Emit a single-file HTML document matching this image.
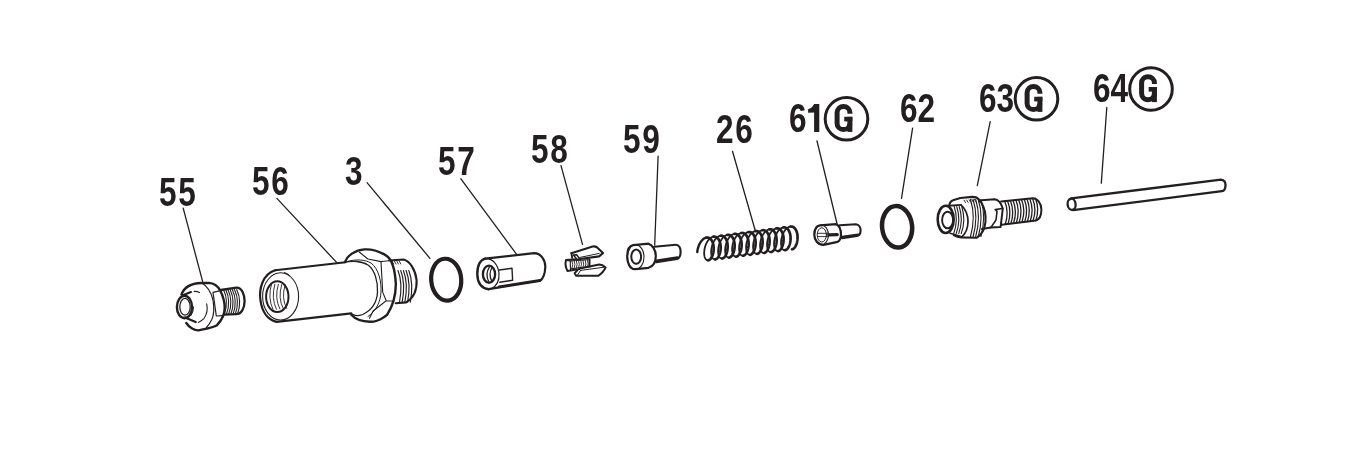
<!DOCTYPE html>
<html><head><meta charset="utf-8"><style>
html,body{margin:0;padding:0;background:#fff;width:1364px;height:459px;overflow:hidden}
svg{position:absolute;left:0;top:0;will-change:transform}
.lb{font-family:"Liberation Sans",sans-serif;font-weight:bold;font-size:40px;fill:#231f20;letter-spacing:2px}
</style></head><body>
<svg width="1364" height="459" viewBox="0 0 1364 459">
<g fill="none" stroke="#231f20" stroke-linecap="round" stroke-linejoin="round">
<g stroke-width="1.3">
<line x1="183.2" y1="208.2" x2="202.6" y2="281.4"/>
<line x1="276.9" y1="198.4" x2="336.6" y2="262.4"/>
<line x1="367.2" y1="182.8" x2="429.9" y2="258.3"/>
<line x1="460.9" y1="178.8" x2="516.8" y2="254.7"/>
<line x1="561" y1="165.7" x2="582.5" y2="244.3"/>
<line x1="658.1" y1="156.2" x2="654.7" y2="245"/>
<line x1="732.5" y1="151.3" x2="755.1" y2="230"/>
<line x1="817" y1="141" x2="837.1" y2="224"/>
<line x1="912.6" y1="128.2" x2="901.5" y2="198.4"/>
<line x1="990.2" y1="121.6" x2="977.3" y2="185.7"/>
<line x1="1106.8" y1="107.5" x2="1101.3" y2="183.1"/>
</g>
<g stroke-width="3">
<circle cx="846.5" cy="118.8" r="21.3"/>
<circle cx="1036.5" cy="98.8" r="21.3"/>
<circle cx="1151" cy="89" r="21.3"/>
</g>
<g id="p55">
<path d="M220.8,290 L236.4,287.6 C242,287.3 244.6,295 244.6,301 C244.6,308 241.5,314 236.4,314.2 L224.4,314.6" stroke-width="2.3"/>
<path d="M223.5,289.4 Q229.0,301 224.3,314" stroke-width="1.1"/>
<path d="M225.7,289.4 Q231.2,301 226.5,314" stroke-width="1.1"/>
<path d="M227.9,289.4 Q233.4,301 228.7,314" stroke-width="1.1"/>
<path d="M230.1,289.4 Q235.6,301 230.9,314" stroke-width="1.1"/>
<path d="M232.3,289.4 Q237.8,301 233.1,314" stroke-width="1.1"/>
<path d="M234.5,289.4 Q240.0,301 235.3,314" stroke-width="1.1"/>
<path d="M236.7,289.4 Q242.2,301 237.5,314" stroke-width="1.1"/>
<path d="M181.5,294.5 C184,287.5 191,283.3 201.4,283 L208.8,282.9 C214,283.2 218,286.5 220.2,290.5 C222.5,295 224.7,302 224.7,308 C224.7,314 222,320 217,325.2 C213,327.5 207,328.5 198.7,330.4 C194,330.5 189,327 186.3,323" stroke-width="2.4"/>
<path d="M201.6,282.8 C207,286 211,292 213,300 C214.5,309 213.5,316 211.7,319.8 C210,323 208,326 206.4,327.5" stroke-width="1.2"/>
<path d="M220.2,290.6 L213,292.4 L216.3,316 L222.4,315.6" stroke-width="1.2"/>
<path d="M182.8,295.2 L191,292" stroke-width="2"/>
<path d="M194.2,291.4 Q197,291.2 199.5,292.4" stroke-width="1.1"/>
<path d="M206.7,303.8 C207.8,309 207,314 204.1,318.3 Q201.5,321 198.3,322.5" stroke-width="1.1"/>
<path d="M185,317.5 L195.7,322.1" stroke-width="2.2"/>
<ellipse cx="184.5" cy="307" rx="7.6" ry="11.2" stroke-width="2.4"/>
<ellipse cx="185" cy="306.8" rx="5.2" ry="8.4" stroke-width="1.3"/>
<path d="M193.6,307 Q193.5,312 191,315.6" stroke-width="1"/>
</g>
<g id="p56">
<path d="M275.3,270.2 L345.5,262.2" stroke-width="2.1"/>
<path d="M276.6,321.9 L351.3,313.4" stroke-width="2.1"/>
<path d="M275.3,270.2 C262,274 259,290 260.4,300 C262,312 268,320 276.6,321.9" stroke-width="2.2"/>
<ellipse cx="280.6" cy="296.4" rx="18" ry="23.6" stroke-width="1.1"/>
<path d="M284.5,272.5 Q288,273.5 289.5,275.5" stroke-width="1"/>
<ellipse cx="277.3" cy="296.7" rx="11.2" ry="15.4" stroke-width="2"/>

<path d="M271.5,284.0 Q267.5,298 273.0,309.5" stroke-width="0.9"/>
<path d="M274.9,284.2 Q270.9,298 276.4,309.2" stroke-width="0.9"/>
<path d="M278.3,284.4 Q274.3,298 279.8,308.9" stroke-width="0.9"/>
<path d="M281.7,284.6 Q277.7,298 283.2,308.6" stroke-width="0.9"/>
<path d="M285.1,284.8 Q281.1,298 286.6,308.3" stroke-width="0.9"/>
<path d="M345.2,261.6 C347,256 355,250 364.4,249.4 C372,249 381,252 387.1,256.3 C392,260 395,270 395.8,283.4 C396,295 394,304 387.1,314.8 C382,319 376,322 370,321.8 C362,321.5 355,319 351.3,314.8" stroke-width="2.4"/>
<path d="M344,262.5 C352,260.5 362,261 368,265 C375,270 378,282 377.5,292 C377,302 372,310 362.7,314.5 C359,316 355,316.5 351.5,313.8" stroke-width="1.3"/>
<path d="M347,261.5 C356,259 365,259.5 371,263 C379,269 381.5,282 381,292 C380.5,302 376,311 368,316.5" stroke-width="1"/>
<path d="M359.2,252 L367.9,259 L381,261.6 L388.8,260.7 M381,261.6 L382.7,292.1 L386.2,300.8 L393,301 M386.2,300.8 L373.1,311 L369.5,318.2" stroke-width="1.1"/>
<path d="M389.2,260.5 L403.6,259.5 C410,261 415.5,270 416.6,280.1 C417,288 415,297 406.2,302.4 L395.7,303.2" stroke-width="2.1"/>

<path d="M398.0,270.5 Q403.0,283 399.5,302.2" stroke-width="1.15"/>
<path d="M400.7,270.5 Q405.7,283 402.2,302.2" stroke-width="1.15"/>
<path d="M403.4,270.5 Q408.4,283 404.9,302.2" stroke-width="1.15"/>
<path d="M406.1,270.5 Q411.1,283 407.6,302.2" stroke-width="1.15"/>
<path d="M408.8,270.5 Q413.8,283 410.3,302.2" stroke-width="1.15"/>
<path d="M392.0,261 L393.6,264" stroke-width="0.9"/>
<path d="M394.4,261 L396.0,264" stroke-width="0.9"/>
<path d="M396.8,261 L398.4,264" stroke-width="0.9"/>
<path d="M399.2,261 L400.8,264" stroke-width="0.9"/>
</g>
<ellipse cx="446.2" cy="279.7" rx="15" ry="21" stroke-width="4.2" transform="rotate(-5 446.2 279.7)"/>
<g id="p57">
<path d="M485.3,258.6 L534.3,253.2 C541,253.5 545.5,260 545.3,267 C545,274 543,279 539.8,281 L488.5,289.1" stroke-width="2.2"/>
<path d="M499,286.6 L540,280.3" stroke-width="2.4"/>
<path d="M485.3,258.6 C480,260 477.3,266 477.3,274 C477.4,282 481,288 488.5,289.3" stroke-width="2.4"/>
<path d="M485.3,258.6 C493,258 498,265 499,273 C499.5,280 497,286 491,289" stroke-width="1.2"/>
<ellipse cx="489" cy="274.2" rx="6.1" ry="8.6" stroke-width="2.3"/>
<path d="M489.5,266.8 Q484.8,274 488.8,281.8 M492.3,267 Q488,274 491.8,281.3" stroke-width="1.3"/>
<path d="M499.4,270 L512,268.2 L512.6,280.2 L499.8,282.2" stroke-width="1.4"/>
</g>
<g id="p58">
<path d="M571.4,253.2 L592.6,246.6 C595,246 597,247 598.2,248.4 L603,253.1 L599.1,256.4 L579.8,259" stroke-width="2.1"/>
<path d="M571.4,253.2 L572.2,257.8" stroke-width="1.9"/>
<path d="M573.3,255 L576.6,254.7 L579.8,258.9 L577.2,259.4 Z" stroke-width="1.5"/>
<path d="M580,257.4 L599.2,253.4" stroke-width="1"/>
<path d="M566,260 L576,259.3 M589.5,259.4 L589.5,266.8 M566,260 Q564.6,265.5 567.4,270.9 L576.5,269.6" stroke-width="2"/>
<path d="M566.2,260.4 L570.2,261 L570.6,269.8" stroke-width="1.2"/>
<path d="M570.2,261 L589.5,259.6 M570.6,268.8 L589.5,266.6" stroke-width="1"/>

<path d="M572.0,261.0 Q573.6,264.5 572.0,268.6" stroke-width="0.9"/>
<path d="M574.2,260.9 Q575.8,264.5 574.2,268.4" stroke-width="0.9"/>
<path d="M576.4,260.7 Q578.0,264.5 576.4,268.1" stroke-width="0.9"/>
<path d="M578.6,260.6 Q580.2,264.5 578.6,267.9" stroke-width="0.9"/>
<path d="M580.8,260.4 Q582.4,264.5 580.8,267.6" stroke-width="0.9"/>
<path d="M583.0,260.2 Q584.6,264.5 583.0,267.4" stroke-width="0.9"/>
<path d="M585.2,260.1 Q586.8,264.5 585.2,267.1" stroke-width="0.9"/>
<path d="M587.4,259.9 Q589.0,264.5 587.4,266.9" stroke-width="0.9"/>
<path d="M578.6,268.8 L599.2,264.6 Q602.5,264.8 605.6,267.4 Q603.5,272.5 598.2,275.8 L576.2,275.8 L574.7,273.2 Z" stroke-width="2"/>
<path d="M574.7,273.2 L578.6,268.8 L580.6,270.4 L577.2,275.6 M580.6,270.4 L604,267.2" stroke-width="1"/>
</g>
<g id="p59">
<path d="M654.3,246.8 L675.9,244.7 C679,244.6 680.6,248 680.6,251.5 C680.6,255 679.5,258.4 677,259 L656.3,262.2" stroke-width="2.1"/>
<path d="M656.5,261 L677.5,257.7" stroke-width="3"/>
<path d="M633,245.2 L648.5,243.7 C652.5,245 655.8,250 655.8,256 C655.8,262 653,266.5 648.5,267.8 L634.7,269.2 C629.5,269 627.2,262 627.2,257 C627.2,250 629.5,245.8 633,245.2 Z" stroke-width="2.2"/>
<ellipse cx="635.7" cy="257" rx="8.3" ry="12.2" stroke-width="1.1"/>
<ellipse cx="636.2" cy="256.7" rx="4.9" ry="7.1" stroke-width="2"/>
</g>
<path d="M697.27,252.10 L697.30,251.76 L697.34,251.43 L697.38,251.10 L697.43,250.76 L697.48,250.42 L697.54,250.08 L697.60,249.74 L697.67,249.41 L697.75,249.07 L697.83,248.73 L697.91,248.39 L698.00,248.05 L698.10,247.72 L698.20,247.38 L698.30,247.05 L698.41,246.72 L698.53,246.39 L698.65,246.06 L698.77,245.74 L698.90,245.42 L699.03,245.10 L699.17,244.78 L699.31,244.47 L699.46,244.17 L699.61,243.87 L699.76,243.57 L699.92,243.28 L700.08,242.99 L700.25,242.71 L700.42,242.43 L700.59,242.16 L700.77,241.89 L700.95,241.64 L701.13,241.38 L701.31,241.14 L701.50,240.90 L701.69,240.67 L701.89,240.44 L702.08,240.22 L702.28,240.01 L702.48,239.81 L702.69,239.61 L702.89,239.43 L703.10,239.25 L703.31,239.08 L703.52,238.92 L703.73,238.76 L703.94,238.62 L704.15,238.48 L704.37,238.36 L704.58,238.24 L704.80,238.13 L705.01,238.03 L705.23,237.94 L705.45,237.86 L705.66,237.79 L705.88,237.73 L706.10,237.68 L706.31,237.63 L706.53,237.60" stroke-width="2.4"/>
<path d="M706.53,237.60 L706.92,237.56 L707.30,237.56 L707.68,237.59 L708.06,237.65 L708.43,237.74 L708.79,237.86 L709.15,238.02 L709.49,238.20 L709.83,238.41 L710.16,238.66 L710.47,238.93 L710.78,239.23 L711.07,239.56 L711.35,239.91 L711.62,240.29 L711.87,240.69 L712.11,241.12 L712.33,241.57 L712.53,242.03 L712.72,242.52 L712.90,243.03 L713.06,243.55 L713.20,244.08 L713.32,244.63 L713.43,245.20 L713.51,245.77 L713.58,246.35 L713.64,246.94 L713.67,247.53 L713.69,248.13 L713.69,248.73 L713.68,249.33 L713.64,249.93 L713.59,250.53 L713.53,251.12 L713.44,251.71 L713.35,252.29 L713.23,252.86 L713.10,253.42 L712.96,253.97 L712.80,254.50 L712.63,255.02 L712.45,255.52 L712.26,256.00 L712.05,256.46 L711.84,256.91 L711.61,257.33 L711.37,257.72 L711.13,258.10 L710.88,258.44 L710.62,258.76 L710.36,259.06 L710.09,259.32 L709.82,259.56 L709.55,259.77 L709.27,259.94 L709.00,260.09 L708.72,260.20 L708.44,260.29 L708.17,260.34" stroke-width="2.7"/>
<path d="M708.17,260.34 L707.89,260.36 L707.63,260.35 L707.36,260.30 L707.10,260.23 L706.85,260.12 L706.60,259.98 L706.36,259.81 L706.13,259.61 L705.91,259.39 L705.70,259.13 L705.50,258.84 L705.31,258.52 L705.14,258.18 L704.97,257.81 L704.83,257.42 L704.69,257.00 L704.57,256.56 L704.46,256.10 L704.37,255.61 L704.30,255.11 L704.24,254.59 L704.20,254.05 L704.18,253.50 L704.17,252.94 L704.18,252.36 L704.21,251.77 L704.26,251.17 L704.32,250.57 L704.40,249.96 L704.50,249.35 L704.61,248.73 L704.75,248.11 L704.90,247.50 L705.06,246.88 L705.24,246.28 L705.44,245.67 L705.66,245.08 L705.89,244.49 L706.13,243.92 L706.39,243.36 L706.67,242.81 L706.95,242.28 L707.25,241.76 L707.56,241.26 L707.89,240.78 L708.22,240.32 L708.56,239.89 L708.91,239.48 L709.27,239.09 L709.64,238.73 L710.01,238.39 L710.39,238.08 L710.77,237.80 L711.16,237.55 L711.55,237.33 L711.94,237.14 L712.34,236.97 L712.73,236.84 L713.13,236.74 L713.52,236.68" stroke-width="1.8"/>
<path d="M713.52,236.68 L713.91,236.64 L714.29,236.64 L714.67,236.67 L715.05,236.73 L715.42,236.82 L715.78,236.94 L716.14,237.09 L716.48,237.28 L716.82,237.49 L717.15,237.74 L717.46,238.01 L717.77,238.31 L718.06,238.64 L718.34,238.99 L718.61,239.37 L718.86,239.77 L719.09,240.20 L719.32,240.64 L719.52,241.11 L719.71,241.60 L719.89,242.10 L720.04,242.62 L720.19,243.16 L720.31,243.71 L720.41,244.27 L720.50,244.85 L720.57,245.43 L720.63,246.02 L720.66,246.61 L720.68,247.21 L720.68,247.81 L720.67,248.41 L720.63,249.01 L720.58,249.61 L720.52,250.20 L720.43,250.79 L720.34,251.37 L720.22,251.94 L720.09,252.50 L719.95,253.04 L719.79,253.58 L719.62,254.10 L719.44,254.60 L719.25,255.08 L719.04,255.54 L718.82,255.98 L718.60,256.40 L718.36,256.80 L718.12,257.17 L717.87,257.52 L717.61,257.84 L717.35,258.13 L717.08,258.40 L716.81,258.64 L716.54,258.84 L716.26,259.02 L715.99,259.17 L715.71,259.28 L715.43,259.36 L715.16,259.42" stroke-width="2.7"/>
<path d="M715.16,259.42 L714.88,259.44 L714.61,259.42 L714.35,259.38 L714.09,259.31 L713.84,259.20 L713.59,259.06 L713.35,258.89 L713.12,258.69 L712.90,258.46 L712.69,258.20 L712.49,257.92 L712.30,257.60 L712.13,257.26 L711.96,256.89 L711.81,256.50 L711.68,256.08 L711.56,255.64 L711.45,255.17 L711.36,254.69 L711.29,254.19 L711.23,253.67 L711.19,253.13 L711.17,252.58 L711.16,252.01 L711.17,251.44 L711.20,250.85 L711.24,250.25 L711.31,249.65 L711.39,249.04 L711.49,248.42 L711.60,247.81 L711.73,247.19 L711.88,246.57 L712.05,245.96 L712.23,245.35 L712.43,244.75 L712.65,244.16 L712.88,243.57 L713.12,243.00 L713.38,242.43 L713.66,241.89 L713.94,241.35 L714.24,240.84 L714.55,240.34 L714.87,239.86 L715.21,239.40 L715.55,238.97 L715.90,238.55 L716.26,238.17 L716.63,237.80 L717.00,237.47 L717.38,237.16 L717.76,236.88 L718.15,236.63 L718.54,236.41 L718.93,236.21 L719.33,236.05 L719.72,235.92 L720.12,235.82 L720.51,235.75" stroke-width="1.8"/>
<path d="M720.51,235.75 L720.90,235.72 L721.28,235.72 L721.66,235.74 L722.04,235.80 L722.41,235.89 L722.77,236.02 L723.13,236.17 L723.47,236.36 L723.81,236.57 L724.14,236.81 L724.45,237.09 L724.76,237.39 L725.05,237.71 L725.33,238.07 L725.60,238.44 L725.85,238.85 L726.08,239.27 L726.31,239.72 L726.51,240.19 L726.70,240.68 L726.88,241.18 L727.03,241.70 L727.17,242.24 L727.30,242.79 L727.40,243.35 L727.49,243.92 L727.56,244.51 L727.62,245.09 L727.65,245.69 L727.67,246.29 L727.67,246.89 L727.66,247.49 L727.62,248.09 L727.57,248.69 L727.51,249.28 L727.42,249.87 L727.32,250.45 L727.21,251.02 L727.08,251.58 L726.94,252.12 L726.78,252.65 L726.61,253.17 L726.43,253.67 L726.24,254.16 L726.03,254.62 L725.81,255.06 L725.59,255.48 L725.35,255.88 L725.11,256.25 L724.86,256.60 L724.60,256.92 L724.34,257.21 L724.07,257.48 L723.80,257.71 L723.53,257.92 L723.25,258.10 L722.97,258.24 L722.70,258.36 L722.42,258.44 L722.15,258.49" stroke-width="2.7"/>
<path d="M722.15,258.49 L721.87,258.51 L721.60,258.50 L721.34,258.46 L721.08,258.38 L720.83,258.28 L720.58,258.14 L720.34,257.97 L720.11,257.77 L719.89,257.54 L719.68,257.28 L719.48,256.99 L719.29,256.68 L719.12,256.34 L718.95,255.97 L718.80,255.57 L718.67,255.15 L718.55,254.71 L718.44,254.25 L718.35,253.77 L718.28,253.27 L718.22,252.74 L718.18,252.21 L718.16,251.66 L718.15,251.09 L718.16,250.51 L718.19,249.92 L718.23,249.33 L718.30,248.72 L718.38,248.11 L718.48,247.50 L718.59,246.88 L718.72,246.27 L718.87,245.65 L719.04,245.04 L719.22,244.43 L719.42,243.83 L719.64,243.23 L719.87,242.65 L720.11,242.07 L720.37,241.51 L720.65,240.96 L720.93,240.43 L721.23,239.91 L721.54,239.42 L721.86,238.94 L722.20,238.48 L722.54,238.04 L722.89,237.63 L723.25,237.24 L723.62,236.88 L723.99,236.55 L724.37,236.24 L724.75,235.96 L725.14,235.70 L725.53,235.48 L725.92,235.29 L726.32,235.13 L726.71,235.00 L727.10,234.90 L727.50,234.83" stroke-width="1.8"/>
<path d="M727.50,234.83 L727.89,234.80 L728.27,234.79 L728.65,234.82 L729.03,234.88 L729.40,234.97 L729.76,235.10 L730.12,235.25 L730.46,235.43 L730.80,235.65 L731.13,235.89 L731.44,236.16 L731.75,236.46 L732.04,236.79 L732.32,237.14 L732.58,237.52 L732.84,237.92 L733.07,238.35 L733.30,238.80 L733.50,239.27 L733.69,239.75 L733.87,240.26 L734.02,240.78 L734.16,241.32 L734.29,241.87 L734.39,242.43 L734.48,243.00 L734.55,243.58 L734.61,244.17 L734.64,244.77 L734.66,245.36 L734.66,245.96 L734.65,246.57 L734.61,247.17 L734.56,247.76 L734.50,248.36 L734.41,248.94 L734.31,249.52 L734.20,250.09 L734.07,250.65 L733.93,251.20 L733.77,251.73 L733.60,252.25 L733.42,252.75 L733.23,253.23 L733.02,253.70 L732.80,254.14 L732.58,254.56 L732.34,254.96 L732.10,255.33 L731.85,255.67 L731.59,256.00 L731.33,256.29 L731.06,256.55 L730.79,256.79 L730.52,257.00 L730.24,257.17 L729.96,257.32 L729.69,257.44 L729.41,257.52 L729.13,257.57" stroke-width="2.7"/>
<path d="M729.13,257.57 L728.86,257.59 L728.59,257.58 L728.33,257.54 L728.07,257.46 L727.82,257.35 L727.57,257.22 L727.33,257.05 L727.10,256.85 L726.88,256.62 L726.67,256.36 L726.47,256.07 L726.28,255.76 L726.11,255.41 L725.94,255.04 L725.79,254.65 L725.66,254.23 L725.54,253.79 L725.43,253.33 L725.34,252.85 L725.27,252.34 L725.21,251.82 L725.17,251.29 L725.15,250.73 L725.14,250.17 L725.15,249.59 L725.18,249.00 L725.22,248.41 L725.29,247.80 L725.37,247.19 L725.47,246.58 L725.58,245.96 L725.71,245.35 L725.86,244.73 L726.03,244.12 L726.21,243.51 L726.41,242.91 L726.63,242.31 L726.86,241.73 L727.10,241.15 L727.36,240.59 L727.63,240.04 L727.92,239.51 L728.22,238.99 L728.53,238.49 L728.85,238.01 L729.19,237.56 L729.53,237.12 L729.88,236.71 L730.24,236.32 L730.61,235.96 L730.98,235.62 L731.36,235.31 L731.74,235.03 L732.13,234.78 L732.52,234.56 L732.91,234.37 L733.31,234.21 L733.70,234.08 L734.09,233.98 L734.49,233.91" stroke-width="1.8"/>
<path d="M734.49,233.91 L734.87,233.87 L735.26,233.87 L735.64,233.90 L736.02,233.96 L736.39,234.05 L736.75,234.17 L737.11,234.33 L737.45,234.51 L737.79,234.72 L738.12,234.97 L738.43,235.24 L738.74,235.54 L739.03,235.87 L739.31,236.22 L739.57,236.60 L739.83,237.00 L740.06,237.43 L740.28,237.88 L740.49,238.34 L740.68,238.83 L740.86,239.34 L741.01,239.86 L741.15,240.39 L741.28,240.94 L741.38,241.51 L741.47,242.08 L741.54,242.66 L741.60,243.25 L741.63,243.84 L741.65,244.44 L741.65,245.04 L741.63,245.64 L741.60,246.24 L741.55,246.84 L741.48,247.43 L741.40,248.02 L741.30,248.60 L741.19,249.17 L741.06,249.73 L740.92,250.28 L740.76,250.81 L740.59,251.33 L740.41,251.83 L740.21,252.31 L740.01,252.77 L739.79,253.22 L739.57,253.64 L739.33,254.03 L739.09,254.41 L738.84,254.75 L738.58,255.07 L738.32,255.37 L738.05,255.63 L737.78,255.87 L737.51,256.07 L737.23,256.25 L736.95,256.40 L736.68,256.51 L736.40,256.60 L736.12,256.65" stroke-width="2.7"/>
<path d="M736.12,256.65 L735.85,256.67 L735.58,256.66 L735.32,256.61 L735.06,256.54 L734.80,256.43 L734.56,256.29 L734.32,256.12 L734.09,255.92 L733.87,255.70 L733.66,255.44 L733.46,255.15 L733.27,254.83 L733.10,254.49 L732.93,254.12 L732.78,253.73 L732.65,253.31 L732.53,252.87 L732.42,252.41 L732.33,251.92 L732.26,251.42 L732.20,250.90 L732.16,250.36 L732.14,249.81 L732.13,249.24 L732.14,248.67 L732.17,248.08 L732.21,247.48 L732.28,246.88 L732.36,246.27 L732.45,245.66 L732.57,245.04 L732.70,244.42 L732.85,243.81 L733.02,243.19 L733.20,242.59 L733.40,241.98 L733.62,241.39 L733.85,240.80 L734.09,240.23 L734.35,239.67 L734.62,239.12 L734.91,238.58 L735.21,238.07 L735.52,237.57 L735.84,237.09 L736.18,236.63 L736.52,236.20 L736.87,235.79 L737.23,235.40 L737.60,235.04 L737.97,234.70 L738.35,234.39 L738.73,234.11 L739.12,233.86 L739.51,233.64 L739.90,233.45 L740.30,233.28 L740.69,233.15 L741.08,233.05 L741.47,232.99" stroke-width="1.8"/>
<path d="M741.47,232.99 L741.86,232.95 L742.25,232.95 L742.63,232.98 L743.01,233.04 L743.38,233.13 L743.74,233.25 L744.09,233.40 L744.44,233.59 L744.78,233.80 L745.11,234.05 L745.42,234.32 L745.73,234.62 L746.02,234.95 L746.30,235.30 L746.56,235.68 L746.81,236.08 L747.05,236.51 L747.27,236.95 L747.48,237.42 L747.67,237.91 L747.84,238.41 L748.00,238.93 L748.14,239.47 L748.27,240.02 L748.37,240.58 L748.46,241.16 L748.53,241.74 L748.58,242.33 L748.62,242.92 L748.64,243.52 L748.64,244.12 L748.62,244.72 L748.59,245.32 L748.54,245.92 L748.47,246.51 L748.39,247.10 L748.29,247.68 L748.18,248.25 L748.05,248.81 L747.91,249.35 L747.75,249.89 L747.58,250.40 L747.40,250.91 L747.20,251.39 L747.00,251.85 L746.78,252.29 L746.56,252.71 L746.32,253.11 L746.08,253.48 L745.83,253.83 L745.57,254.15 L745.31,254.44 L745.04,254.71 L744.77,254.95 L744.50,255.15 L744.22,255.33 L743.94,255.47 L743.67,255.59 L743.39,255.67 L743.11,255.73" stroke-width="2.7"/>
<path d="M743.11,255.73 L742.84,255.75 L742.57,255.73 L742.31,255.69 L742.05,255.62 L741.79,255.51 L741.55,255.37 L741.31,255.20 L741.08,255.00 L740.86,254.77 L740.65,254.51 L740.45,254.23 L740.26,253.91 L740.08,253.57 L739.92,253.20 L739.77,252.81 L739.64,252.39 L739.52,251.95 L739.41,251.48 L739.32,251.00 L739.25,250.50 L739.19,249.98 L739.15,249.44 L739.13,248.89 L739.12,248.32 L739.13,247.74 L739.16,247.16 L739.20,246.56 L739.27,245.96 L739.35,245.35 L739.44,244.73 L739.56,244.12 L739.69,243.50 L739.84,242.88 L740.01,242.27 L740.19,241.66 L740.39,241.06 L740.61,240.47 L740.84,239.88 L741.08,239.31 L741.34,238.74 L741.61,238.20 L741.90,237.66 L742.20,237.15 L742.51,236.65 L742.83,236.17 L743.16,235.71 L743.51,235.28 L743.86,234.86 L744.22,234.48 L744.58,234.11 L744.96,233.78 L745.34,233.47 L745.72,233.19 L746.11,232.94 L746.50,232.71 L746.89,232.52 L747.29,232.36 L747.68,232.23 L748.07,232.13 L748.46,232.06" stroke-width="1.8"/>
<path d="M748.46,232.06 L748.85,232.03 L749.24,232.03 L749.62,232.05 L750.00,232.11 L750.37,232.20 L750.73,232.33 L751.08,232.48 L751.43,232.67 L751.77,232.88 L752.09,233.12 L752.41,233.40 L752.72,233.70 L753.01,234.02 L753.29,234.38 L753.55,234.75 L753.80,235.16 L754.04,235.58 L754.26,236.03 L754.47,236.50 L754.66,236.99 L754.83,237.49 L754.99,238.01 L755.13,238.55 L755.26,239.10 L755.36,239.66 L755.45,240.23 L755.52,240.81 L755.57,241.40 L755.61,242.00 L755.63,242.60 L755.63,243.20 L755.61,243.80 L755.58,244.40 L755.53,245.00 L755.46,245.59 L755.38,246.18 L755.28,246.76 L755.17,247.33 L755.04,247.88 L754.90,248.43 L754.74,248.96 L754.57,249.48 L754.39,249.98 L754.19,250.47 L753.99,250.93 L753.77,251.37 L753.55,251.79 L753.31,252.19 L753.07,252.56 L752.82,252.91 L752.56,253.23 L752.30,253.52 L752.03,253.79 L751.76,254.02 L751.49,254.23 L751.21,254.41 L750.93,254.55 L750.65,254.67 L750.38,254.75 L750.10,254.80" stroke-width="2.7"/>
<path d="M750.10,254.80 L749.83,254.82 L749.56,254.81 L749.30,254.77 L749.04,254.69 L748.78,254.59 L748.54,254.45 L748.30,254.28 L748.07,254.08 L747.85,253.85 L747.64,253.59 L747.44,253.30 L747.25,252.99 L747.07,252.65 L746.91,252.28 L746.76,251.88 L746.63,251.46 L746.51,251.02 L746.40,250.56 L746.31,250.08 L746.24,249.57 L746.18,249.05 L746.14,248.52 L746.11,247.97 L746.11,247.40 L746.12,246.82 L746.15,246.23 L746.19,245.64 L746.25,245.03 L746.34,244.42 L746.43,243.81 L746.55,243.19 L746.68,242.58 L746.83,241.96 L747.00,241.35 L747.18,240.74 L747.38,240.14 L747.60,239.54 L747.83,238.96 L748.07,238.38 L748.33,237.82 L748.60,237.27 L748.89,236.74 L749.19,236.22 L749.50,235.73 L749.82,235.25 L750.15,234.79 L750.50,234.35 L750.85,233.94 L751.21,233.55 L751.57,233.19 L751.95,232.86 L752.33,232.55 L752.71,232.27 L753.10,232.01 L753.49,231.79 L753.88,231.60 L754.27,231.44 L754.67,231.31 L755.06,231.21 L755.45,231.14" stroke-width="1.8"/>
<path d="M755.45,231.14 L755.84,231.11 L756.23,231.10 L756.61,231.13 L756.99,231.19 L757.36,231.28 L757.72,231.40 L758.07,231.56 L758.42,231.74 L758.76,231.96 L759.08,232.20 L759.40,232.47 L759.70,232.77 L760.00,233.10 L760.28,233.45 L760.54,233.83 L760.79,234.23 L761.03,234.66 L761.25,235.11 L761.46,235.58 L761.65,236.06 L761.82,236.57 L761.98,237.09 L762.12,237.63 L762.24,238.18 L762.35,238.74 L762.44,239.31 L762.51,239.89 L762.56,240.48 L762.60,241.08 L762.62,241.67 L762.62,242.27 L762.60,242.88 L762.57,243.48 L762.52,244.07 L762.45,244.67 L762.37,245.25 L762.27,245.83 L762.16,246.40 L762.03,246.96 L761.89,247.51 L761.73,248.04 L761.56,248.56 L761.38,249.06 L761.18,249.54 L760.98,250.01 L760.76,250.45 L760.53,250.87 L760.30,251.27 L760.06,251.64 L759.81,251.98 L759.55,252.31 L759.29,252.60 L759.02,252.86 L758.75,253.10 L758.47,253.31 L758.20,253.48 L757.92,253.63 L757.64,253.74 L757.37,253.83 L757.09,253.88" stroke-width="2.7"/>
<path d="M757.09,253.88 L756.82,253.90 L756.55,253.89 L756.29,253.85 L756.03,253.77 L755.77,253.66 L755.53,253.53 L755.29,253.36 L755.06,253.16 L754.84,252.93 L754.63,252.67 L754.43,252.38 L754.24,252.07 L754.06,251.72 L753.90,251.35 L753.75,250.96 L753.62,250.54 L753.50,250.10 L753.39,249.64 L753.30,249.15 L753.23,248.65 L753.17,248.13 L753.13,247.59 L753.10,247.04 L753.10,246.48 L753.11,245.90 L753.14,245.31 L753.18,244.71 L753.24,244.11 L753.32,243.50 L753.42,242.89 L753.54,242.27 L753.67,241.65 L753.82,241.04 L753.99,240.43 L754.17,239.82 L754.37,239.22 L754.58,238.62 L754.81,238.04 L755.06,237.46 L755.32,236.90 L755.59,236.35 L755.88,235.82 L756.18,235.30 L756.49,234.80 L756.81,234.32 L757.14,233.87 L757.49,233.43 L757.84,233.02 L758.20,232.63 L758.56,232.27 L758.94,231.93 L759.32,231.62 L759.70,231.34 L760.09,231.09 L760.48,230.87 L760.87,230.68 L761.26,230.52 L761.66,230.39 L762.05,230.29 L762.44,230.22" stroke-width="1.8"/>
<path d="M762.44,230.22 L762.83,230.18 L763.22,230.18 L763.60,230.21 L763.97,230.27 L764.34,230.36 L764.71,230.48 L765.06,230.64 L765.41,230.82 L765.75,231.03 L766.07,231.28 L766.39,231.55 L766.69,231.85 L766.99,232.18 L767.27,232.53 L767.53,232.91 L767.78,233.31 L768.02,233.74 L768.24,234.18 L768.45,234.65 L768.64,235.14 L768.81,235.65 L768.97,236.17 L769.11,236.70 L769.23,237.25 L769.34,237.82 L769.43,238.39 L769.50,238.97 L769.55,239.56 L769.59,240.15 L769.61,240.75 L769.61,241.35 L769.59,241.95 L769.56,242.55 L769.51,243.15 L769.44,243.74 L769.36,244.33 L769.26,244.91 L769.15,245.48 L769.02,246.04 L768.88,246.59 L768.72,247.12 L768.55,247.64 L768.37,248.14 L768.17,248.62 L767.97,249.08 L767.75,249.53 L767.52,249.95 L767.29,250.34 L767.05,250.71 L766.80,251.06 L766.54,251.38 L766.28,251.68 L766.01,251.94 L765.74,252.18 L765.46,252.38 L765.19,252.56 L764.91,252.71 L764.63,252.82 L764.36,252.91 L764.08,252.96" stroke-width="2.7"/>
<path d="M764.08,252.96 L763.81,252.98 L763.54,252.97 L763.28,252.92 L763.02,252.85 L762.76,252.74 L762.52,252.60 L762.28,252.43 L762.05,252.23 L761.83,252.00 L761.62,251.75 L761.42,251.46 L761.23,251.14 L761.05,250.80 L760.89,250.43 L760.74,250.04 L760.61,249.62 L760.48,249.18 L760.38,248.72 L760.29,248.23 L760.22,247.73 L760.16,247.21 L760.12,246.67 L760.09,246.12 L760.09,245.55 L760.10,244.98 L760.12,244.39 L760.17,243.79 L760.23,243.19 L760.31,242.58 L760.41,241.96 L760.53,241.35 L760.66,240.73 L760.81,240.12 L760.98,239.50 L761.16,238.90 L761.36,238.29 L761.57,237.70 L761.80,237.11 L762.05,236.54 L762.31,235.98 L762.58,235.43 L762.87,234.89 L763.17,234.38 L763.48,233.88 L763.80,233.40 L764.13,232.94 L764.48,232.51 L764.83,232.10 L765.19,231.71 L765.55,231.35 L765.93,231.01 L766.31,230.70 L766.69,230.42 L767.08,230.17 L767.47,229.95 L767.86,229.76 L768.25,229.59 L768.65,229.46 L769.04,229.36 L769.43,229.30" stroke-width="1.8"/>
<path d="M769.43,229.30 L769.82,229.26 L770.21,229.26 L770.59,229.29 L770.96,229.35 L771.33,229.44 L771.70,229.56 L772.05,229.71 L772.40,229.90 L772.74,230.11 L773.06,230.36 L773.38,230.63 L773.68,230.93 L773.98,231.25 L774.26,231.61 L774.52,231.99 L774.77,232.39 L775.01,232.81 L775.23,233.26 L775.44,233.73 L775.63,234.22 L775.80,234.72 L775.96,235.24 L776.10,235.78 L776.22,236.33 L776.33,236.89 L776.42,237.47 L776.49,238.05 L776.54,238.64 L776.58,239.23 L776.60,239.83 L776.60,240.43 L776.58,241.03 L776.55,241.63 L776.50,242.23 L776.43,242.82 L776.35,243.41 L776.25,243.99 L776.14,244.56 L776.01,245.12 L775.87,245.66 L775.71,246.20 L775.54,246.71 L775.36,247.22 L775.16,247.70 L774.96,248.16 L774.74,248.60 L774.51,249.02 L774.28,249.42 L774.04,249.79 L773.79,250.14 L773.53,250.46 L773.27,250.75 L773.00,251.02 L772.73,251.25 L772.45,251.46 L772.18,251.64 L771.90,251.78 L771.62,251.90 L771.35,251.98 L771.07,252.04" stroke-width="2.7"/>
<path d="M771.07,252.04 L770.80,252.06 L770.53,252.04 L770.26,252.00 L770.01,251.93 L769.75,251.82 L769.51,251.68 L769.27,251.51 L769.04,251.31 L768.82,251.08 L768.61,250.82 L768.41,250.54 L768.22,250.22 L768.04,249.88 L767.88,249.51 L767.73,249.11 L767.59,248.70 L767.47,248.26 L767.37,247.79 L767.28,247.31 L767.21,246.81 L767.15,246.29 L767.11,245.75 L767.08,245.20 L767.08,244.63 L767.09,244.05 L767.11,243.47 L767.16,242.87 L767.22,242.27 L767.30,241.66 L767.40,241.04 L767.52,240.43 L767.65,239.81 L767.80,239.19 L767.97,238.58 L768.15,237.97 L768.35,237.37 L768.56,236.78 L768.79,236.19 L769.04,235.62 L769.30,235.05 L769.57,234.50 L769.86,233.97 L770.16,233.46 L770.47,232.96 L770.79,232.48 L771.12,232.02 L771.46,231.59 L771.82,231.17 L772.18,230.79 L772.54,230.42 L772.92,230.09 L773.29,229.78 L773.68,229.50 L774.07,229.25 L774.46,229.02 L774.85,228.83 L775.24,228.67 L775.64,228.54 L776.03,228.44 L776.42,228.37" stroke-width="1.8"/>
<path d="M776.42,228.37 L776.81,228.34 L777.20,228.33 L777.58,228.36 L777.95,228.42 L778.32,228.51 L778.69,228.64 L779.04,228.79 L779.39,228.97 L779.73,229.19 L780.05,229.43 L780.37,229.70 L780.67,230.00 L780.97,230.33 L781.24,230.69 L781.51,231.06 L781.76,231.47 L782.00,231.89 L782.22,232.34 L782.43,232.81 L782.62,233.29 L782.79,233.80 L782.95,234.32 L783.09,234.86 L783.21,235.41 L783.32,235.97 L783.41,236.54 L783.48,237.12 L783.53,237.71 L783.57,238.31 L783.59,238.91 L783.59,239.51 L783.57,240.11 L783.54,240.71 L783.49,241.31 L783.42,241.90 L783.34,242.49 L783.24,243.06 L783.13,243.63 L783.00,244.19 L782.85,244.74 L782.70,245.27 L782.53,245.79 L782.35,246.29 L782.15,246.78 L781.95,247.24 L781.73,247.68 L781.50,248.10 L781.27,248.50 L781.03,248.87 L780.77,249.22 L780.52,249.54 L780.26,249.83 L779.99,250.10 L779.72,250.33 L779.44,250.54 L779.17,250.72 L778.89,250.86 L778.61,250.98 L778.34,251.06 L778.06,251.11" stroke-width="2.7"/>
<path d="M778.06,251.11 L777.79,251.13 L777.52,251.12 L777.25,251.08 L776.99,251.00 L776.74,250.90 L776.49,250.76 L776.26,250.59 L776.03,250.39 L775.81,250.16 L775.59,249.90 L775.40,249.61 L775.21,249.30 L775.03,248.95 L774.87,248.59 L774.72,248.19 L774.58,247.77 L774.46,247.33 L774.36,246.87 L774.27,246.39 L774.19,245.88 L774.14,245.36 L774.10,244.83 L774.07,244.27 L774.07,243.71 L774.08,243.13 L774.10,242.54 L774.15,241.95 L774.21,241.34 L774.29,240.73 L774.39,240.12 L774.51,239.50 L774.64,238.89 L774.79,238.27 L774.96,237.66 L775.14,237.05 L775.34,236.45 L775.55,235.85 L775.78,235.27 L776.03,234.69 L776.29,234.13 L776.56,233.58 L776.85,233.05 L777.15,232.53 L777.46,232.03 L777.78,231.56 L778.11,231.10 L778.45,230.66 L778.81,230.25 L779.16,229.86 L779.53,229.50 L779.91,229.17 L780.28,228.86 L780.67,228.58 L781.06,228.32 L781.45,228.10 L781.84,227.91 L782.23,227.75 L782.63,227.62 L783.02,227.52 L783.41,227.45" stroke-width="1.8"/>
<path d="M783.41,227.45 L783.80,227.42 L784.19,227.41 L784.57,227.44 L784.94,227.50 L785.31,227.59 L785.68,227.71 L786.03,227.87 L786.38,228.05 L786.71,228.27 L787.04,228.51 L787.36,228.78 L787.66,229.08 L787.95,229.41 L788.23,229.76 L788.50,230.14 L788.75,230.54 L788.99,230.97 L789.21,231.42 L789.42,231.89 L789.61,232.37 L789.78,232.88 L789.94,233.40 L790.08,233.94 L790.20,234.49 L790.31,235.05 L790.40,235.62 L790.47,236.20 L790.52,236.79 L790.56,237.38 L790.58,237.98 L790.58,238.58 L790.56,239.18 L790.53,239.79 L790.48,240.38 L790.41,240.98 L790.33,241.56 L790.23,242.14 L790.12,242.71 L789.99,243.27 L789.84,243.82 L789.69,244.35 L789.52,244.87 L789.33,245.37 L789.14,245.85 L788.93,246.32 L788.72,246.76 L788.49,247.18 L788.26,247.57 L788.01,247.95 L787.76,248.29 L787.51,248.61 L787.24,248.91 L786.98,249.17 L786.71,249.41 L786.43,249.62 L786.16,249.79 L785.88,249.94 L785.60,250.05 L785.32,250.14 L785.05,250.19" stroke-width="2.7"/>
<path d="M785.05,250.19 L784.78,250.21 L784.51,250.20 L784.24,250.16 L783.98,250.08 L783.73,249.97 L783.48,249.84 L783.25,249.67 L783.02,249.47 L782.79,249.24 L782.58,248.98 L782.38,248.69 L782.20,248.37 L782.02,248.03 L781.86,247.66 L781.71,247.27 L781.57,246.85 L781.45,246.41 L781.35,245.95 L781.26,245.46 L781.18,244.96 L781.13,244.44 L781.09,243.90 L781.06,243.35 L781.05,242.79 L781.06,242.21 L781.09,241.62 L781.14,241.02 L781.20,240.42 L781.28,239.81 L781.38,239.20 L781.50,238.58 L781.63,237.96 L781.78,237.35 L781.94,236.74 L782.13,236.13 L782.33,235.53 L782.54,234.93 L782.77,234.34 L783.02,233.77 L783.28,233.21 L783.55,232.66 L783.84,232.13 L784.14,231.61 L784.45,231.11 L784.77,230.63 L785.10,230.18 L785.44,229.74 L785.79,229.33 L786.15,228.94 L786.52,228.58 L786.89,228.24 L787.27,227.93 L787.66,227.65 L788.04,227.40 L788.44,227.18 L788.83,226.99 L789.22,226.83 L789.62,226.70 L790.01,226.60 L790.40,226.53" stroke-width="1.8"/>
<path d="M790.40,226.53 L790.79,226.49 L791.18,226.49 L791.56,226.52 L791.93,226.58 L792.30,226.67 L792.67,226.79 L793.02,226.95 L793.37,227.13 L793.70,227.34 L794.03,227.59 L794.35,227.86 L794.65,228.16 L794.94,228.49 L795.22,228.84 L795.49,229.22 L795.74,229.62 L795.98,230.05 L796.20,230.49 L796.41,230.96 L796.60,231.45 L796.77,231.95 L796.93,232.48 L797.07,233.01 L797.19,233.56 L797.30,234.13 L797.39,234.70 L797.46,235.28 L797.51,235.87 L797.55,236.46 L797.56,237.06 L797.57,237.66 L797.55,238.26 L797.52,238.86 L797.47,239.46 L797.40,240.05 L797.32,240.64 L797.22,241.22 L797.10,241.79 L796.98,242.35 L796.83,242.90 L796.68,243.43 L796.51,243.95 L796.32,244.45 L796.13,244.93 L795.92,245.39 L795.71,245.84 L795.48,246.26 L795.25,246.65 L795.00,247.02 L794.75,247.37 L794.50,247.69 L794.23,247.99 L793.97,248.25 L793.70,248.49 L793.42,248.69 L793.15,248.87 L792.87,249.02 L792.59,249.13 L792.31,249.22 L792.04,249.27" stroke-width="2.7"/>
<g id="p61">
<path d="M839.8,225.3 L855.8,224.2 C859,224.5 860.6,227.5 860.6,230.5 C860.6,233.5 859.5,235.5 857,236 L842,238.2" stroke-width="2.1"/>
<path d="M842.2,237 L858,234.8" stroke-width="2.6"/>
<path d="M820,225.3 L836,224.2 C839.5,225.5 841,230 841,234.7 C841,239 839,241.5 837.5,241.8 L823.5,244.8 C818,244.8 814.3,240 814.3,234.8 C814.3,229.5 816.5,225.8 820,225.3 Z" stroke-width="2.2"/>
<ellipse cx="821.4" cy="234.9" rx="7" ry="9.9" stroke-width="1.1"/>
<ellipse cx="821.8" cy="234.9" rx="4.6" ry="7.1" stroke-width="1"/>
<path d="M828.8,234.9 L837.3,234.6" stroke-width="3.2"/>
<path d="M817.6,233.3 L828.5,233.3 M817.8,236.6 L828.5,236.6" stroke-width="0.9"/>
</g>
<ellipse cx="897.1" cy="226.8" rx="15" ry="20.8" stroke-width="4.5" transform="rotate(-6 897.1 226.8)"/>
<g id="p63">
<path d="M1001.1,201.4 L1032.7,198.2 C1037,198.3 1041.4,203 1041.4,209.6 C1041.4,215 1039.5,219.5 1036,220.5 L1001.7,224.8" stroke-width="2"/>
<path d="M1004.8,201.2 Q1009.2,212.5 1005.2,224.4" stroke-width="1.3"/>
<path d="M1007.6,200.9 Q1012.0,212.2 1008.0,224.0" stroke-width="1.3"/>
<path d="M1010.4,200.7 Q1014.8,211.9 1010.8,223.7" stroke-width="1.3"/>
<path d="M1013.1,200.4 Q1017.5,211.6 1013.5,223.3" stroke-width="1.3"/>
<path d="M1015.9,200.1 Q1020.3,211.3 1016.3,223.0" stroke-width="1.3"/>
<path d="M1018.7,199.8 Q1023.1,211.0 1019.1,222.6" stroke-width="1.3"/>
<path d="M1021.5,199.6 Q1025.9,210.7 1021.9,222.2" stroke-width="1.3"/>
<path d="M1024.3,199.3 Q1028.7,210.4 1024.7,221.9" stroke-width="1.3"/>
<path d="M1027.0,199.0 Q1031.4,210.1 1027.4,221.5" stroke-width="1.3"/>
<path d="M1029.8,198.8 Q1034.2,209.8 1030.2,221.2" stroke-width="1.3"/>
<path d="M1032.6,198.5 Q1037.0,209.5 1033.0,220.8" stroke-width="1.3"/>
<path d="M1035.4,198.2 Q1039.8,209.2 1035.8,220.4" stroke-width="1.3"/>
<path d="M979,201.5 L981.5,200.3 L994.6,199.3 C998,199.5 1001,203 1002.8,208.5 L1000.6,227 L990.8,227.6 L982,229" stroke-width="2"/>
<path d="M995.2,209.6 L1002.2,208.5 M995.2,209.6 L997,211.3 L996,220 L990.8,227.6" stroke-width="1.6"/>
<path d="M949.4,204.5 C950,202 951,200.7 953,200.2 L960.3,198 L972.2,196.9 C975,197 977,197.5 977.9,198.6 C981,201 983.5,206 985,212 C986,218 986,225 983,231 C981,234.5 979,236.5 976.6,237.8 L961.3,237.4 C958,237 955.5,236 953.7,235" stroke-width="2.1"/>
<path d="M961,204.8 C965.5,209 968,215 968,221.5 C968,228 966,233 962,236.8" stroke-width="1.7"/>
<path d="M970.5,199.5 Q976.0,217 970.5,236.5" stroke-width="1.15"/>
<path d="M973.1,199.5 Q978.6,217 973.1,236.5" stroke-width="1.15"/>
<path d="M975.7,199.5 Q981.2,217 975.7,236.5" stroke-width="1.15"/>
<path d="M978.3,199.5 Q983.8,217 978.3,236.5" stroke-width="1.15"/>
<path d="M980.9,199.5 Q986.4,217 980.9,236.5" stroke-width="1.15"/>
<path d="M954.2,206.5 Q958.7,220 953.7,233.5" stroke-width="1.1"/>
<path d="M956.7,206.5 Q961.2,220 956.2,233.5" stroke-width="1.1"/>
<path d="M959.2,206.5 Q963.7,220 958.7,233.5" stroke-width="1.1"/>
<path d="M961.7,206.5 Q966.2,220 961.2,233.5" stroke-width="1.1"/>
<path d="M964.0,200.2 L965.5,202.5" stroke-width="1"/>
<path d="M966.6,200.0 L968.1,202.3" stroke-width="1"/>
<path d="M969.2,199.8 L970.7,202.1" stroke-width="1"/>
<path d="M971.8,199.6 L973.3,201.9" stroke-width="1"/>
<path d="M974.4,199.4 L975.9,201.7" stroke-width="1"/>
<path d="M945.5,206 L961,204.8" stroke-width="1.8"/>
<path d="M950,233.2 L962,236.6" stroke-width="1.5"/>
<ellipse cx="945.7" cy="219.4" rx="8.0" ry="13.6" stroke-width="2.6"/>
<ellipse cx="947.6" cy="220" rx="5.5" ry="8.3" stroke-width="1.9"/>
</g>
<g id="p64">
<path d="M1071.3,198.3 L1221,179.6 C1224.5,180 1225.6,183 1225.5,185.5 C1225.4,188.5 1224,191 1222,191.2 L1073,210.2" stroke-width="2.3"/>
<ellipse cx="1071.6" cy="204.3" rx="4" ry="5.6" stroke-width="2.3" transform="rotate(-7 1071.6 204.3)"/>
</g>
</g>
<g class="lb">
<text transform="translate(159,205.5) scale(0.79,1)">55</text>
<text transform="translate(252,194.5) scale(0.79,1)">56</text>
<text transform="translate(345,184.5) scale(0.79,1)">3</text>
<text transform="translate(438,174.5) scale(0.79,1)">57</text>
<text transform="translate(531,163) scale(0.79,1)">58</text>
<text transform="translate(623,153) scale(0.79,1)">59</text>
<text transform="translate(716,143) scale(0.79,1)">26</text>
<text transform="translate(789,132) scale(0.79,1)">6</text>
<path d="M814.1,104 L819.3,104 L819.3,132 L814.1,132 L814.1,112.5 L808.1,112.8 L808.1,109.2 Q812,108.5 814.1,104 Z"/>
<text transform="translate(900,122) scale(0.79,1)" style="letter-spacing:0">62</text>
<text transform="translate(979,112) scale(0.79,1)" style="letter-spacing:0">63</text>
<text transform="translate(1093,102) scale(0.79,1)" style="letter-spacing:0">64</text>
<g transform="translate(834.6,104)"><g fill="none" stroke="#231f20" stroke-linecap="butt" stroke-linejoin="miter"><path d="M15.3,9.8 L15.3,8.6 A6.4,6.1 0 0 0 2.5,8.6 L2.5,19.4 A6.4,6.1 0 0 0 15.3,19.4" stroke-width="5"/><path d="M9.6,15.1 L17.8,15.1" stroke-width="4.6"/><path d="M15.3,12.8 L15.3,27.9" stroke-width="5"/></g></g>
<g transform="translate(1024.6,84)"><g fill="none" stroke="#231f20" stroke-linecap="butt" stroke-linejoin="miter"><path d="M15.3,9.8 L15.3,8.6 A6.4,6.1 0 0 0 2.5,8.6 L2.5,19.4 A6.4,6.1 0 0 0 15.3,19.4" stroke-width="5"/><path d="M9.6,15.1 L17.8,15.1" stroke-width="4.6"/><path d="M15.3,12.8 L15.3,27.9" stroke-width="5"/></g></g>
<g transform="translate(1139.1,74.2)"><g fill="none" stroke="#231f20" stroke-linecap="butt" stroke-linejoin="miter"><path d="M15.3,9.8 L15.3,8.6 A6.4,6.1 0 0 0 2.5,8.6 L2.5,19.4 A6.4,6.1 0 0 0 15.3,19.4" stroke-width="5"/><path d="M9.6,15.1 L17.8,15.1" stroke-width="4.6"/><path d="M15.3,12.8 L15.3,27.9" stroke-width="5"/></g></g>
</g>
</svg>
</body></html>
